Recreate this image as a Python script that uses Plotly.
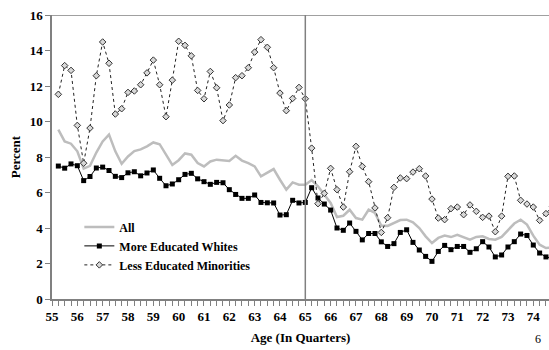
import numpy as np
import plotly.graph_objects as go

# Quarterly ages from 55.25 to 74.75
ages = [55 + 0.25 * i for i in range(1, 80)]

all_workers = [
    9.54, 8.88, 8.75, 8.32, 7.35, 7.50, 8.25, 8.88, 9.26, 8.32,
    7.62, 8.03, 8.33, 8.43, 8.60, 8.82, 8.72, 8.15, 7.55, 7.82,
    8.20, 8.13, 7.66, 7.47, 7.75, 7.85, 7.80, 7.78, 8.07, 7.80,
    7.65, 7.47, 6.91, 7.10, 7.32, 6.72, 6.16, 6.57, 6.44, 6.44,
    6.70, 6.35, 5.88, 5.41, 4.62, 4.69, 5.03, 4.56, 4.47, 5.03,
    4.85, 4.13, 4.12, 4.30, 4.45, 4.47, 4.32, 4.00, 3.53, 3.15,
    3.44, 3.57, 3.49, 3.62, 3.49, 3.34, 3.50, 3.53, 3.38, 3.34,
    3.50, 3.90, 4.25, 4.47, 4.19, 3.57, 3.06, 2.87, 2.90,
]

more_educated_whites = [
    7.49, 7.37, 7.61, 7.51, 6.67, 6.90, 7.38, 7.43, 7.24, 6.91,
    6.84, 7.11, 7.17, 6.94, 7.10, 7.27, 6.80, 6.38, 6.48, 6.72,
    7.02, 7.08, 6.77, 6.61, 6.46, 6.57, 6.55, 6.16, 5.89, 5.67,
    5.67, 5.86, 5.44, 5.42, 5.41, 4.73, 4.75, 5.56, 5.41, 5.44,
    6.27, 5.69, 5.35, 5.01, 4.00, 3.87, 4.28, 3.81, 3.33, 3.69,
    3.69, 3.22, 2.96, 3.12, 3.75, 3.90, 3.19, 2.76, 2.40, 2.12,
    2.68, 3.02, 2.78, 2.96, 2.96, 2.63, 2.83, 3.23, 2.93, 2.37,
    2.48, 2.93, 3.23, 3.66, 3.58, 3.04, 2.59, 2.37, 2.30,
]

less_educated_minorities = [
    11.53, 13.15, 12.88, 9.78, 7.65, 9.63, 12.58, 14.48, 13.28, 10.42,
    10.72, 11.64, 11.72, 12.07, 12.74, 13.46, 12.07, 10.27, 12.33, 14.52,
    14.29, 13.70, 11.75, 11.28, 12.82, 11.90, 10.05, 10.93, 12.47, 12.58,
    13.03, 13.91, 14.61, 14.18, 13.03, 11.60, 10.61, 11.30, 11.92, 11.28,
    8.50, 5.37, 5.95, 7.36, 6.16, 5.18, 7.17, 8.60, 7.47, 6.61,
    5.13, 3.75, 4.58, 6.29, 6.82, 6.78, 7.15, 7.34, 6.93, 5.63,
    4.56, 4.47, 5.09, 5.18, 4.75, 5.30, 4.94, 4.60, 4.67, 3.79,
    4.67, 6.91, 6.93, 5.56, 5.35, 5.18, 4.43, 4.81, 5.20,
]

x_ticks = list(range(55, 75))
y_ticks = list(range(0, 17, 2))
retirement_age = 65

serif = "Liberation Serif"

fig = go.Figure()

fig.add_trace(go.Scatter(
    x=ages, y=all_workers, name="All", mode="lines",
    line=dict(color="#bdbdbd", width=2.5),
))
fig.add_trace(go.Scatter(
    x=ages, y=more_educated_whites, name="More Educated Whites",
    mode="lines+markers",
    line=dict(color="#000000", width=1),
    marker=dict(symbol="square", size=5, color="#000000"),
))
fig.add_trace(go.Scatter(
    x=ages, y=less_educated_minorities, name="Less Educated Minorities",
    mode="lines+markers",
    line=dict(color="#222222", width=1, dash="dot"),
    marker=dict(symbol="diamond", size=5, color="#d8d8d8",
                line=dict(color="#333333", width=1)),
))

# Vertical reference line at age 65
fig.add_shape(type="line", x0=retirement_age, x1=retirement_age, y0=0, y1=16,
              xref="x", yref="y", line=dict(color="#808080", width=1.5))
# Top frame line
fig.add_shape(type="line", x0=0, x1=1, y0=16, y1=16, xref="paper", yref="y",
              line=dict(color="#808080", width=1.5))

# Page number in the corner
fig.add_annotation(text="6", x=0.988, y=-0.172, xref="paper", yref="paper",
                   yanchor="bottom", showarrow=False,
                   font=dict(family=serif, size=12, color="#000"))

fig.update_layout(
    width=549, height=350,
    margin=dict(l=52, r=0, t=15, b=51),
    paper_bgcolor="white", plot_bgcolor="white",
    font=dict(family=serif, size=13, color="#000000"),
    showlegend=True,
    legend=dict(
        x=0.055, y=0.305, xanchor="left", yanchor="top",
        bgcolor="rgba(0,0,0,0)",
        font=dict(family=serif, size=12, color="#000000", weight="bold"),
        tracegroupgap=0, itemwidth=30,
    ),
    xaxis=dict(
        range=[55, 74.62], tickvals=x_ticks, ticktext=[str(v) for v in x_ticks],
        ticks="outside", ticklen=5, tickcolor="#808080",
        minor=dict(dtick=0.25, ticks="outside", ticklen=5, tickcolor="#808080"),
        showgrid=False, zeroline=False,
        showline=True, linecolor="#808080", linewidth=1.5,
        tickfont=dict(family=serif, size=13, weight="bold"),
        title=dict(text="Age (In Quarters)",
                   font=dict(family=serif, size=13, weight="bold"), standoff=10),
    ),
    yaxis=dict(
        range=[0, 16], tickvals=y_ticks,
        ticks="outside", ticklen=5, tickcolor="#808080",
        showgrid=False, zeroline=False,
        showline=True, linecolor="#808080", linewidth=1.5,
        tickfont=dict(family=serif, size=13, weight="bold"),
        title=dict(text="Percent",
                   font=dict(family=serif, size=13, weight="bold"), standoff=6),
    ),
)

fig.write_html("out.html")
